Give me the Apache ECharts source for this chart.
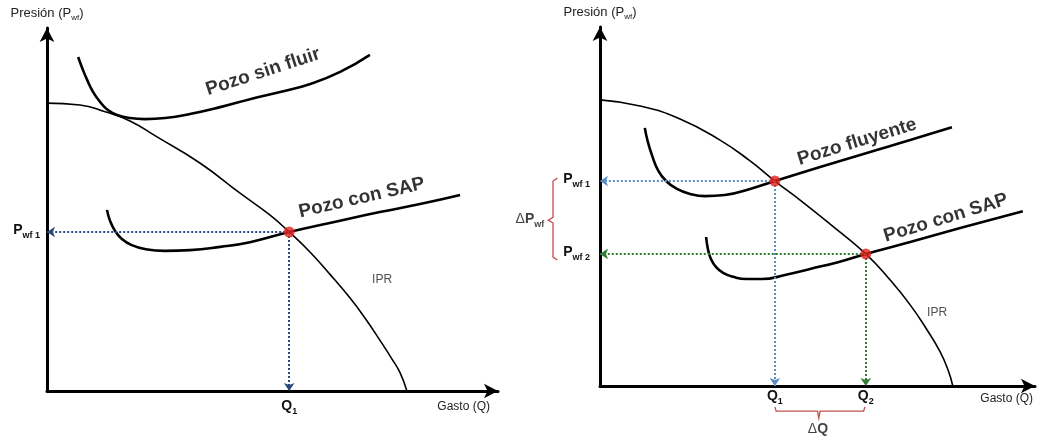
<!DOCTYPE html>
<html>
<head>
<meta charset="utf-8">
<script src="https://cdn.jsdelivr.net/npm/echarts@6/dist/echarts.min.js"></script>
<style>
html, body { margin: 0; padding: 0; background: #fff; }
#main { width: 1037px; height: 436px; }
</style>
</head>
<body>
<div id="main"></div>
<script>
// ---- panel izquierdo: [Q, Pwf] en unidades relativas (0-100) ----
var iprIzq = [[0, 79.3], [7.3, 78.8], [12.9, 76.9], [18.4, 74.4], [24.4, 70.0], [33.9, 62.8], [42.8, 54.5],
	[49.4, 48.5], [53.7, 43.8], [58.3, 38.3], [62.7, 32.2], [67.2, 25.6], [70.5, 20.1], [73.8, 14.0],
	[76.5, 8.8], [78.3, 5.0], [79.8, 0]];
var sinFluir = [[6.9, 92.0], [7.8, 89.0], [8.9, 85.7], [10.2, 82.4], [11.8, 79.6], [13.5, 77.4], [15.7, 76.0],
	[18.4, 75.2], [21.7, 74.9], [26.2, 75.2], [31.7, 76.3], [38.4, 78.2], [45.0, 80.4], [51.7, 82.4],
	[58.4, 84.6], [65.0, 87.9], [71.6, 92.6]];
var sapIzq = [[13.3, 49.9], [14.0, 46.8], [15.1, 44.1], [16.6, 41.9], [18.8, 40.2], [21.7, 39.1], [26.2, 38.6],
	[31.7, 38.8], [38.4, 39.7], [45.0, 41.0], [53.7, 43.8], [62.7, 46.3], [73.8, 49.3], [82.7, 51.5], [91.6, 54.0]];
var puntoIzq = [53.7, 43.8];

// ---- panel derecho ----
var iprDer = [[0, 79.7], [9.2, 78.0], [18.4, 74.4], [27.6, 68.5], [34.5, 62.7], [40.2, 57.1], [46.0, 51.8],
	[52.9, 45.1], [61.1, 36.8], [66.7, 29.5], [71.3, 22.6], [75.2, 15.6], [78.2, 9.5], [80.0, 4.5], [81.1, 0]];
var fluyente = [[10.3, 71.9], [11.0, 68.0], [12.0, 64.1], [13.3, 60.2], [15.2, 57.1], [17.7, 54.9], [20.7, 53.5],
	[24.1, 52.9], [28.7, 53.2], [34.5, 54.9], [40.2, 57.1], [50.6, 61.0], [62.1, 65.2], [71.3, 68.5], [80.9, 72.1]];
var sapDer = [[24.4, 41.5], [24.8, 38.2], [25.5, 35.4], [26.7, 33.1], [28.3, 31.5], [30.6, 30.4], [33.6, 29.8],
	[37.2, 29.8], [42.5, 30.9], [48.3, 32.6], [54.7, 34.5], [61.1, 36.8], [71.3, 40.1], [82.8, 44.0], [97.2, 48.7]];
var punto1 = [40.2, 57.1];
var punto2 = [61.1, 36.8];

// llaves rojas (ΔPwf y ΔQ)
var llaveP = [[-9.8, 57.9], [-10.8, 57.1], [-10.8, 47.0], [-11.9, 46.2], [-10.8, 45.4], [-10.8, 35.9], [-9.8, 35.1]];
var llaveQ = [[40.2, -5.8], [40.5, -7.0], [50.0, -7.0], [50.3, -8.9], [50.6, -7.0], [60.6, -7.0], [60.9, -5.8]];

// etiquetas: [Q, Pwf, texto, giro]
var etiquetasIzq = [[47.9, 87.9, 'Pozo sin fluir', 18], [69.8, 53.2, 'Pozo con SAP', 13]];
var etiquetasDer = [[59.1, 68.0, 'Pozo fluyente', 17], [79.5, 46.8, 'Pozo con SAP', 17]];
var iprIzqEtiq = [74.3, 30.6];
var iprDerEtiq = [77.5, 20.3];
var deltaP = [-16.1, 46.2];
var deltaQ = [50.1, -12.3];

var qIzq = [53.7], qIzqTxt = ['{b|Q}{s|1}'];
var pIzq = [43.8], pIzqTxt = ['{b|P}{s|wf 1}'];
var qDer = [40.2, 61.1], qDerTxt = ['{b|Q}{s|1}', '{b|Q}{s|2}'];
var pDer = [57.1, 36.8], pDerTxt = ['{b|P}{s|wf 1}', '{b|P}{s|wf 2}'];

var fuente = "'Liberation Sans', Arial, sans-serif";
var richBold = {
	b: { fontSize: 14, fontWeight: 'bold', color: '#111', fontFamily: fuente, verticalAlign: 'bottom', padding: [0, 0, 3, 0] },
	s: { fontSize: 9, fontWeight: 'bold', color: '#111', fontFamily: fuente, verticalAlign: 'bottom' },
	n: { fontSize: 14, color: '#111', fontFamily: fuente, verticalAlign: 'bottom', padding: [0, 0, 3, 0] }
};
var richName = {
	t: { fontSize: 13, color: '#222', fontFamily: fuente, verticalAlign: 'bottom', padding: [0, 0, 2, 0] },
	s: { fontSize: 8, color: '#222', fontFamily: fuente, verticalAlign: 'bottom' }
};

function ejeX(idx, vals, txt, margen, gapName, padName) {
	return {
		type: 'value', gridIndex: idx, min: 0, max: 100,
		splitLine: { show: false }, axisTick: { show: false },
		axisLine: { show: true, lineStyle: { color: '#000', width: 3 }, symbol: ['none', 'arrow'], symbolSize: [11, 14] },
		axisLabel: {
			show: true, customValues: vals, margin: margen,
			formatter: function (v) { return txt[vals.indexOf(v)]; },
			rich: richBold
		},
		name: 'Gasto (Q)', nameLocation: 'end', nameGap: gapName,
		nameTextStyle: { fontSize: 12, color: '#222', fontFamily: fuente, align: 'right', verticalAlign: 'top', padding: [padName, 0, 0, 0] }
	};
}
function ejeY(idx, vals, txt, margen) {
	return {
		type: 'value', gridIndex: idx, min: 0, max: 100,
		splitLine: { show: false }, axisTick: { show: false },
		axisLine: { show: true, lineStyle: { color: '#000', width: 3 }, symbol: ['none', 'arrow'], symbolSize: [11, 14] },
		axisLabel: {
			show: true, customValues: vals, margin: margen,
			formatter: function (v) { return txt[vals.indexOf(v)]; },
			rich: richBold
		},
		name: '{t|Presión (P}{s|wf}{t|)}', nameLocation: 'end', nameGap: 6,
		nameTextStyle: { rich: richName }
	};
}

function curva(xi, datos, ancho) {
	return {
		type: 'line', xAxisIndex: xi, yAxisIndex: xi, data: datos, smooth: 0.5,
		symbol: 'none', lineStyle: { color: '#000', width: ancho }, silent: true
	};
}
function guias(xi, p, color) {
	return {
		type: 'line', xAxisIndex: xi, yAxisIndex: xi, data: [], symbol: 'none',
		markLine: {
			silent: true, symbol: ['none', 'arrow'], symbolSize: 8, label: { show: false },
			lineStyle: { type: 'dotted', color: color, width: 2 },
			data: [[{ coord: p }, { coord: [0, p[1]] }], [{ coord: p }, { coord: [p[0], 0] }]]
		}
	};
}
function puntos(xi, datos) {
	return {
		type: 'scatter', xAxisIndex: xi, yAxisIndex: xi, data: datos, symbolSize: 11, z: 5,
		itemStyle: { color: '#E3201B' }, silent: true
	};
}
function rotados(xi, lista) {
	return lista.map(function (e) {
		return {
			type: 'scatter', xAxisIndex: xi, yAxisIndex: xi, symbolSize: 0, clip: false, silent: true,
			data: [[e[0], e[1]]],
			label: {
				show: true, position: 'inside', rotate: e[3], fontSize: 19, fontWeight: 'bold',
				color: '#000', textBorderWidth: 0, fontFamily: fuente, formatter: e[2]
			}
		};
	});
}
function texto(xi, p, fmt, rich) {
	var lab = { show: true, position: 'inside', formatter: fmt, fontFamily: fuente, color: '#222', fontSize: 12, textBorderWidth: 0 };
	if (rich) lab.rich = rich;
	return {
		type: 'scatter', xAxisIndex: xi, yAxisIndex: xi, symbolSize: 0, clip: false, silent: true,
		data: [p], label: lab
	};
}
function llave(xi, datos) {
	return {
		type: 'custom', xAxisIndex: xi, yAxisIndex: xi, data: [[0, 0]], silent: true, clip: false,
		renderItem: function (params, api) {
			var pts = datos.map(function (d) { return api.coord(d); });
			return { type: 'polyline', shape: { points: pts }, style: { stroke: '#C0504D', lineWidth: 1.3, fill: null } };
		}
	};
}

var series = [
	curva(0, iprIzq, 1.6), curva(0, sinFluir, 2.6), curva(0, sapIzq, 2.6),
	guias(0, puntoIzq, '#2B4A7E'), puntos(0, [puntoIzq]),
	texto(0, iprIzqEtiq, 'IPR'),
	curva(1, iprDer, 1.6), curva(1, fluyente, 2.6), curva(1, sapDer, 2.6),
	guias(1, punto1, '#5A8BC6'), guias(1, punto2, '#2F7D32'), puntos(1, [punto1, punto2]),
	texto(1, iprDerEtiq, 'IPR'),
	llave(1, llaveP), llave(1, llaveQ),
	texto(1, deltaP, '{n|\u0394}{b|P}{s|wf}', richBold),
	texto(1, deltaQ, '{n|\u0394}{b|Q}', richBold)
].concat(rotados(0, etiquetasIzq), rotados(1, etiquetasDer));

var option = {
	animation: false,
	grid: [
		{ left: 47, top: 28, width: 451, height: 363 },
		{ left: 600, top: 27, width: 435, height: 359 }
	],
	xAxis: [ejeX(0, qIzq, qIzqTxt, 8, -8, 10), ejeX(1, qDer, qDerTxt, 3, -2, 7)],
	yAxis: [ejeY(0, pIzq, pIzqTxt, 7), ejeY(1, pDer, pDerTxt, 10)],
	series: series
};

var myChart = echarts.init(document.getElementById('main'));
myChart.setOption(option);
</script>
</body>
</html>
